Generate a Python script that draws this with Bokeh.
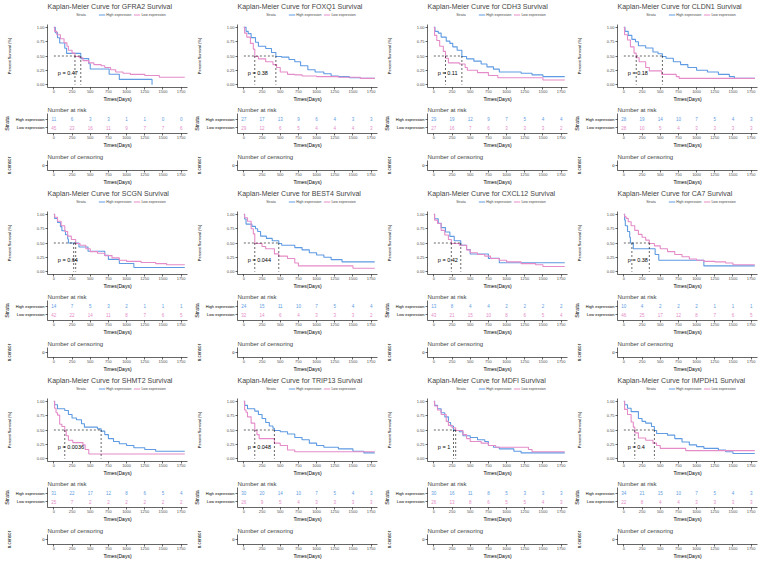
from bokeh.plotting import figure
from bokeh.layouts import column, row
from bokeh.models import (Range1d, FactorRange, Legend, LegendItem, FixedTicker,
                          NumeralTickFormatter)
from bokeh.embed import file_html
from bokeh.resources import INLINE
from bokeh.core.properties import value

# ---------------- data ----------------
GENES = ["GFRA2", "FOXQ1", "CDH3", "CLDN1", "SCGN", "BEST4",
         "CXCL12", "CA7", "SHMT2", "TRIP13", "MDFI", "IMPDH1"]
PVALS = ["0.47", "0.38", "0.11", "0.18", "0.64", "0.044",
         "0.42", "0.38", "0.0036", "0.048", "1", "0.4"]
RISK_TIMES = [0, 250, 500, 750, 1000, 1250, 1500, 1750]

# Kaplan-Meier step points (time in days, survival)
GFRA2_HIGH = [(0, 1.0), (20, 0.909), (50, 0.818), (80, 0.727), (150, 0.636), (175, 0.545),
              (370, 0.455), (480, 0.364), (500, 0.273), (760, 0.182), (900, 0.091), (1350, 0.0)]
GFRA2_LOW = [(0, 1.0), (10, 0.93), (40, 0.87), (90, 0.8), (140, 0.73), (180, 0.67), (200, 0.6),
             (250, 0.55), (290, 0.49), (350, 0.47), (400, 0.42), (480, 0.38), (550, 0.35),
             (650, 0.33), (700, 0.3), (780, 0.26), (850, 0.22), (950, 0.2), (1050, 0.18),
             (1250, 0.16), (1450, 0.13), (1800, 0.13)]
FOXQ1_HIGH = [(0, 1.0), (30, 0.93), (60, 0.89), (100, 0.82), (160, 0.74), (200, 0.67), (300, 0.63),
              (380, 0.56), (440, 0.49), (520, 0.48), (620, 0.44), (700, 0.4), (780, 0.33),
              (880, 0.26), (980, 0.22), (1100, 0.19), (1200, 0.15), (1300, 0.14), (1450, 0.12),
              (1600, 0.11), (1800, 0.11)]
FOXQ1_LOW = [(0, 1.0), (10, 0.9), (40, 0.83), (90, 0.72), (130, 0.62), (150, 0.49), (200, 0.45),
             (300, 0.4), (400, 0.35), (450, 0.3), (500, 0.22), (600, 0.18), (700, 0.17),
             (800, 0.15), (1000, 0.14), (1300, 0.13), (1600, 0.11), (1800, 0.11)]
CDH3_HIGH = [(0, 1.0), (15, 0.93), (60, 0.9), (100, 0.83), (170, 0.76), (220, 0.72), (260, 0.66),
             (320, 0.6), (385, 0.49), (450, 0.45), (550, 0.41), (650, 0.36), (730, 0.31),
             (820, 0.27), (900, 0.22), (1200, 0.2), (1350, 0.17), (1500, 0.14), (1800, 0.14)]
CDH3_LOW = [(0, 1.0), (10, 0.86), (40, 0.77), (80, 0.67), (130, 0.58), (160, 0.46), (200, 0.38),
            (350, 0.36), (430, 0.3), (460, 0.25), (600, 0.21), (750, 0.16), (880, 0.12),
            (1450, 0.12), (1500, 0.08), (1800, 0.08)]
CLDN1_HIGH = [(0, 1.0), (15, 0.93), (60, 0.86), (110, 0.79), (160, 0.75), (200, 0.68), (300, 0.64),
              (400, 0.57), (470, 0.54), (530, 0.49), (580, 0.46), (680, 0.4), (780, 0.35),
              (880, 0.3), (1000, 0.25), (1150, 0.22), (1300, 0.18), (1450, 0.14), (1520, 0.11),
              (1800, 0.11)]
CLDN1_LOW = [(0, 1.0), (10, 0.87), (50, 0.78), (90, 0.66), (140, 0.55), (170, 0.47), (210, 0.4),
             (300, 0.3), (350, 0.24), (520, 0.18), (720, 0.14), (760, 0.11), (1800, 0.11)]
SCGN_HIGH = [(0, 1.0), (10, 0.929), (50, 0.857), (90, 0.786), (110, 0.714), (160, 0.643),
             (190, 0.571), (200, 0.5), (345, 0.429), (470, 0.357), (700, 0.286), (750, 0.214),
             (900, 0.143), (1100, 0.071), (1800, 0.071)]
SCGN_LOW = [(0, 1.0), (10, 0.95), (50, 0.88), (100, 0.8), (150, 0.7), (190, 0.62), (240, 0.56),
            (300, 0.49), (360, 0.46), (440, 0.4), (500, 0.35), (600, 0.32), (700, 0.28),
            (800, 0.24), (900, 0.2), (1000, 0.18), (1200, 0.16), (1400, 0.14), (1550, 0.12),
            (1800, 0.12)]
BEST4_HIGH = [(0, 1.0), (10, 0.92), (30, 0.83), (110, 0.79), (160, 0.75), (190, 0.7), (230, 0.62),
              (310, 0.58), (390, 0.54), (480, 0.49), (520, 0.46), (700, 0.42), (800, 0.38),
              (900, 0.33), (1000, 0.29), (1100, 0.25), (1200, 0.21), (1350, 0.17), (1800, 0.17)]
BEST4_LOW = [(0, 1.0), (10, 0.94), (50, 0.88), (100, 0.75), (130, 0.66), (150, 0.49), (250, 0.44),
             (300, 0.4), (420, 0.31), (480, 0.27), (600, 0.23), (700, 0.15), (750, 0.1),
             (1500, 0.06), (1800, 0.06)]
CXCL12_HIGH = [(0, 1.0), (10, 0.923), (60, 0.846), (100, 0.769), (160, 0.692), (220, 0.615),
               (280, 0.538), (370, 0.462), (450, 0.385), (500, 0.308), (750, 0.231),
               (900, 0.154), (1800, 0.154)]
CXCL12_LOW = [(0, 1.0), (10, 0.9), (50, 0.84), (100, 0.72), (150, 0.64), (200, 0.56), (240, 0.49),
              (350, 0.46), (450, 0.38), (500, 0.33), (600, 0.3), (700, 0.27), (780, 0.23),
              (900, 0.2), (1000, 0.17), (1200, 0.14), (1400, 0.12), (1500, 0.09), (1800, 0.09)]
CA7_HIGH = [(0, 1.0), (10, 0.9), (20, 0.8), (50, 0.7), (80, 0.6), (90, 0.5), (130, 0.4),
            (430, 0.3), (480, 0.2), (1100, 0.1), (1800, 0.1)]
CA7_LOW = [(0, 1.0), (10, 0.96), (30, 0.93), (60, 0.87), (100, 0.8), (150, 0.72), (200, 0.65),
           (250, 0.6), (300, 0.55), (350, 0.49), (420, 0.45), (500, 0.4), (600, 0.35),
           (700, 0.3), (800, 0.26), (900, 0.22), (1000, 0.2), (1100, 0.18), (1250, 0.17),
           (1400, 0.15), (1500, 0.12), (1800, 0.12)]
SHMT2_HIGH = [(0, 1.0), (10, 0.94), (50, 0.87), (150, 0.84), (200, 0.77), (250, 0.71), (310, 0.68),
              (380, 0.61), (420, 0.55), (600, 0.52), (650, 0.48), (700, 0.42), (750, 0.35),
              (820, 0.3), (900, 0.26), (1000, 0.23), (1100, 0.19), (1250, 0.16), (1400, 0.13),
              (1800, 0.13)]
SHMT2_LOW = [(0, 1.0), (10, 0.88), (30, 0.8), (50, 0.76), (80, 0.6), (110, 0.56), (150, 0.48),
             (170, 0.4), (200, 0.32), (260, 0.28), (400, 0.24), (430, 0.16), (480, 0.08),
             (1800, 0.08)]
TRIP13_HIGH = [(0, 1.0), (10, 0.93), (50, 0.87), (150, 0.83), (200, 0.77), (250, 0.7), (300, 0.63),
               (350, 0.57), (400, 0.53), (420, 0.49), (500, 0.47), (600, 0.43), (700, 0.37),
               (800, 0.33), (900, 0.27), (1000, 0.23), (1100, 0.2), (1300, 0.17), (1500, 0.13),
               (1650, 0.1), (1800, 0.1)]
TRIP13_LOW = [(0, 1.0), (10, 0.85), (30, 0.81), (50, 0.73), (100, 0.62), (150, 0.49), (180, 0.42),
              (210, 0.35), (420, 0.27), (500, 0.23), (600, 0.15), (700, 0.12), (1800, 0.12)]
MDFI_HIGH = [(0, 1.0), (10, 0.93), (50, 0.87), (100, 0.8), (150, 0.73), (200, 0.63), (230, 0.57),
             (270, 0.49), (350, 0.47), (400, 0.4), (500, 0.37), (600, 0.33), (700, 0.3),
             (750, 0.23), (820, 0.2), (900, 0.17), (1100, 0.13), (1200, 0.1), (1800, 0.1)]
MDFI_LOW = [(0, 1.0), (10, 0.92), (50, 0.85), (100, 0.77), (170, 0.65), (200, 0.58), (250, 0.54),
            (300, 0.49), (400, 0.42), (450, 0.35), (500, 0.3), (650, 0.27), (750, 0.23),
            (850, 0.2), (1300, 0.16), (1350, 0.12), (1800, 0.12)]
IMPDH1_HIGH = [(0, 1.0), (10, 0.94), (50, 0.88), (100, 0.82), (200, 0.7), (250, 0.65), (300, 0.62),
               (380, 0.56), (420, 0.49), (450, 0.44), (600, 0.41), (700, 0.35), (800, 0.29),
               (900, 0.24), (1000, 0.21), (1100, 0.18), (1300, 0.15), (1400, 0.12), (1500, 0.09),
               (1800, 0.09)]
IMPDH1_LOW = [(0, 1.0), (10, 0.86), (50, 0.77), (100, 0.64), (130, 0.55), (150, 0.45), (200, 0.36),
              (300, 0.32), (400, 0.27), (450, 0.23), (500, 0.18), (850, 0.14), (1800, 0.14)]

# numbers at risk at RISK_TIMES
GFRA2_RISK_HIGH = [11, 6, 3, 3, 1, 1, 0, 0]
GFRA2_RISK_LOW = [45, 23, 16, 11, 9, 7, 7, 6]
FOXQ1_RISK_HIGH = [27, 17, 13, 9, 6, 4, 3, 3]
FOXQ1_RISK_LOW = [29, 12, 6, 5, 4, 4, 4, 3]
CDH3_RISK_HIGH = [29, 19, 12, 9, 7, 5, 4, 4]
CDH3_RISK_LOW = [27, 16, 7, 6, 3, 3, 3, 2]
CLDN1_RISK_HIGH = [28, 19, 14, 10, 7, 5, 4, 3]
CLDN1_RISK_LOW = [28, 10, 5, 4, 3, 3, 3, 3]
SCGN_RISK_HIGH = [14, 7, 5, 3, 2, 1, 1, 1]
SCGN_RISK_LOW = [42, 22, 14, 11, 8, 7, 6, 5]
BEST4_RISK_HIGH = [24, 15, 11, 10, 7, 5, 4, 4]
BEST4_RISK_LOW = [32, 14, 6, 4, 3, 3, 3, 2]
CXCL12_RISK_HIGH = [13, 8, 4, 4, 2, 2, 2, 2]
CXCL12_RISK_LOW = [43, 21, 15, 10, 8, 6, 5, 4]
CA7_RISK_HIGH = [10, 4, 2, 2, 2, 1, 1, 1]
CA7_RISK_LOW = [46, 25, 17, 12, 8, 7, 6, 5]
SHMT2_RISK_HIGH = [31, 22, 17, 12, 8, 6, 5, 4]
SHMT2_RISK_LOW = [25, 7, 2, 2, 2, 2, 2, 2]
TRIP13_RISK_HIGH = [30, 20, 14, 10, 7, 5, 4, 3]
TRIP13_RISK_LOW = [26, 9, 5, 4, 3, 3, 3, 3]
MDFI_RISK_HIGH = [30, 16, 11, 8, 5, 3, 3, 3]
MDFI_RISK_LOW = [26, 13, 8, 6, 5, 5, 4, 3]
IMPDH1_RISK_HIGH = [34, 21, 15, 10, 7, 5, 4, 3]
IMPDH1_RISK_LOW = [22, 8, 4, 4, 3, 3, 3, 3]

CURVES = {g: (globals()[g + "_HIGH"], globals()[g + "_LOW"]) for g in GENES}
RISKS = {g: (globals()[g + "_RISK_HIGH"], globals()[g + "_RISK_LOW"]) for g in GENES}

# ---------------- style ----------------
W = 190
H_HEAD, H_KM, H_RISK, H_CENS = 19, 85, 46, 37
BL, BR = 41, 3
XR = (-87.5, 1837.5)
BLUE = "#5E9BE2"
PINK = "#E58BC8"
FONT = "Liberation Sans"
TICK_COL = "#4D4D4D"


def median_time(pts):
    for i, (t, s) in enumerate(pts):
        if abs(s - 0.5) < 1e-9 and i + 1 < len(pts):
            return (t + pts[i + 1][0]) / 2.0
        if s < 0.5:
            return t
    return None


def base(f):
    f.grid.visible = False
    f.outline_line_color = None
    f.background_fill_color = "white"
    f.border_fill_color = "white"


def style(f, ylabel, ylabel_standoff):
    base(f)
    for ax in f.xaxis + f.yaxis:
        ax.axis_line_width = 0.6
        ax.axis_line_color = "black"
        ax.major_tick_line_width = 0.6
        ax.major_tick_line_color = "black"
        ax.major_tick_out = 2
        ax.major_tick_in = 0
        ax.minor_tick_line_color = None
        ax.major_label_text_font_size = "4px"
        ax.major_label_text_font = FONT
        ax.major_label_text_color = TICK_COL
        ax.major_label_standoff = 1
        ax.axis_label_text_font_size = "5px"
        ax.axis_label_text_font = FONT
        ax.axis_label_text_font_style = "normal"
        ax.axis_label_text_color = "black"
    f.xaxis.ticker = FixedTicker(ticks=RISK_TIMES)
    f.xaxis.axis_label = "Times(Days)"
    f.xaxis.major_label_standoff = 0
    f.xaxis.axis_label_standoff = 0
    f.yaxis.axis_label = ylabel
    f.yaxis.axis_label_standoff = ylabel_standoff


def set_title(f, text, size):
    f.title.text = text
    f.title.text_font = FONT
    f.title.text_font_style = "normal"
    f.title.text_font_size = size
    f.title.align = "left"
    f.title.standoff = 1


def panel(gene, pval):
    high, low = CURVES[gene]
    rh, rl = RISKS[gene]

    # ---- header: title + strata legend ----
    h = figure(width=W, height=H_HEAD, x_range=Range1d(0, 1), y_range=Range1d(0, 1),
               output_backend="svg", toolbar_location=None,
               x_axis_location=None, y_axis_location=None,
               min_border_left=BL, min_border_right=BR, min_border_top=0, min_border_bottom=0)
    base(h)
    set_title(h, "Kaplan-Meier Curve for %s Survival" % gene, "7px")
    dummy = h.line([-5, -4], [-5, -5], line_alpha=0)
    lh = h.line([-5, -4], [-5, -5], line_color=BLUE, line_width=1.1)
    ll = h.line([-5, -4], [-5, -5], line_color=PINK, line_width=1.1)
    leg = Legend(items=[LegendItem(label="Strata", renderers=[dummy]),
                        LegendItem(label="High expression", renderers=[lh]),
                        LegendItem(label="Low expression", renderers=[ll])],
                 orientation="horizontal", location="center",
                 label_text_font_size="3.5px", label_text_font=FONT, label_standoff=1,
                 glyph_width=7, glyph_height=3, label_height=3, spacing=2,
                 padding=0, margin=0, border_line_color=None, background_fill_alpha=0)
    h.add_layout(leg, "center")

    # ---- KM curve ----
    f = figure(width=W, height=H_KM, x_range=Range1d(*XR), y_range=Range1d(-0.05, 1.05),
               output_backend="svg", toolbar_location=None,
               min_border_left=BL, min_border_right=BR, min_border_top=5, min_border_bottom=14)
    style(f, "Percent Survival (%)", 22)
    f.yaxis.ticker = FixedTicker(ticks=[0, 0.25, 0.5, 0.75, 1.0])
    f.yaxis.formatter = NumeralTickFormatter(format="0.00")
    f.yaxis.axis_label_text_font_size = "4px"

    mh, ml = median_time(high), median_time(low)
    meds = [m for m in (mh, ml) if m is not None]
    f.step([p[0] for p in high], [p[1] for p in high], mode="after",
           line_color=BLUE, line_width=1.1)
    f.step([p[0] for p in low], [p[1] for p in low], mode="after",
           line_color=PINK, line_width=1.1)
    if meds:
        f.line([0, max(meds)], [0.5, 0.5], line_color="black", line_dash="2 2", line_width=0.6)
        f.segment(x0=meds, y0=[0.5] * len(meds), x1=meds, y1=[0] * len(meds),
                  line_color="black", line_dash="2 2", line_width=0.6)
    f.text(x=[55], y=[0.2], text=["p = " + pval], text_font=value(FONT),
           text_font_size="5.5px", text_baseline="middle", text_align="left", text_color="black")

    # ---- risk table ----
    cats = ["Low expression", "High expression"]
    r = figure(width=W, height=H_RISK, x_range=Range1d(*XR),
               y_range=FactorRange(factors=cats, range_padding=0.2),
               output_backend="svg", toolbar_location=None,
               min_border_left=BL, min_border_right=BR, min_border_top=9, min_border_bottom=14)
    style(r, "Strata", 3)
    set_title(r, "Number at risk", "6px")
    r.yaxis.major_label_text_color = "black"
    r.yaxis.axis_label_text_font_size = "5.5px"
    r.text(x=RISK_TIMES, y=["High expression"] * len(RISK_TIMES), text=[str(v) for v in rh],
           text_color=BLUE, text_font=value(FONT), text_font_size="4.5px",
           text_align="center", text_baseline="middle")
    r.text(x=RISK_TIMES, y=["Low expression"] * len(RISK_TIMES), text=[str(v) for v in rl],
           text_color=PINK, text_font=value(FONT), text_font_size="4.5px",
           text_align="center", text_baseline="middle")

    # ---- censoring ----
    c = figure(width=W, height=H_CENS, x_range=Range1d(*XR), y_range=Range1d(-0.5, 0.5),
               output_backend="svg", toolbar_location=None,
               min_border_left=BL, min_border_right=BR, min_border_top=10, min_border_bottom=14)
    style(c, "n.censor", 27)
    set_title(c, "Number of censoring", "6px")
    c.yaxis.ticker = FixedTicker(ticks=[0])
    c.yaxis.major_label_text_color = "black"
    c.yaxis.axis_label_text_font_size = "4.5px"
    return column(h, f, r, c)


panels = [panel(g, p) for g, p in zip(GENES, PVALS)]
layout = column(row(*panels[0:4]), row(*panels[4:8]), row(*panels[8:12]))

open("out.html", "w").write(file_html(layout, INLINE))
